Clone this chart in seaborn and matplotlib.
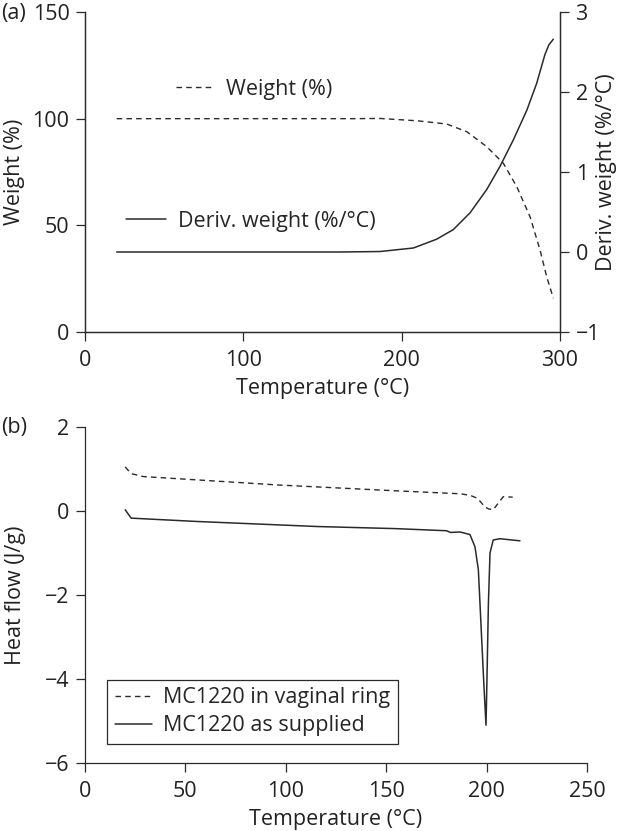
import matplotlib
matplotlib.use("Agg")
import matplotlib.pyplot as plt
import seaborn as sns
import pandas as pd
from matplotlib.lines import Line2D

# ---------------- data ----------------
# (a) TGA
weight_temp = [20, 100, 170, 186.3, 210, 228.4, 241.1, 253.7, 264.2, 272.7, 281.1, 287.4, 291.6, 295.8]
weight_pct = [100, 100, 100, 100.1, 99.0, 97.5, 93.9, 86.9, 79.1, 68.1, 54.0, 38.4, 25.9, 15.8]

deriv_temp = [20, 100, 161, 186.3, 207.4, 222.1, 232.6, 243.2, 253.7, 262.1, 270.5, 279, 285.3, 290.5, 293, 295.8]
deriv_wt = [0, 0, 0, 0.006, 0.05, 0.16, 0.28, 0.49, 0.78, 1.07, 1.40, 1.77, 2.11, 2.47, 2.59, 2.66]

# (b) DSC
ring_temp = [20, 23, 29, 56, 96, 155, 187, 192, 195, 197, 199, 201, 203.3, 206, 208.3, 213]
ring_flow = [1.05, 0.89, 0.82, 0.74, 0.62, 0.48, 0.41, 0.37, 0.31, 0.22, 0.10, 0.05, 0.03, 0.2, 0.34, 0.33]

supp_temp = [20, 23, 56, 116, 155, 180, 182, 186.8, 191.7, 194.2, 195.9, 197.5, 198.7, 199.7,
             200.1, 200.9, 201.7, 203.3, 206.6, 216.6]
supp_flow = [0.03, -0.17, -0.25, -0.37, -0.42, -0.47, -0.51, -0.50, -0.56, -0.85, -1.4, -3.0, -4.19, -5.1,
             -4.2, -2.2, -1.0, -0.69, -0.66, -0.71]

a_xticks = [0, 100, 200, 300]
a_yticks = [0, 50, 100, 150]
a_y2ticks = [-1, 0, 1, 2, 3]
b_xticks = [0, 50, 100, 150, 200, 250]
b_yticks = [2, 0, -2, -4, -6]

# ---------------- style ----------------
sns.set_style("ticks")
plt.rcParams["font.family"] = ["Open Sans", "DejaVu Sans"]
FS = 15.5
INK = "#2a2a2a"
plt.rcParams.update({
    "axes.edgecolor": INK, "axes.linewidth": 0.9,
    "xtick.color": INK, "ytick.color": INK,
    "xtick.labelcolor": "#222222", "ytick.labelcolor": "#222222",
    "xtick.major.size": 6.2, "ytick.major.size": 6.2,
    "xtick.major.width": 0.9, "ytick.major.width": 0.9,
    "xtick.major.pad": 6.5, "ytick.major.pad": 5,
    "font.size": FS, "axes.labelcolor": "#222222",
})

W, H = 620, 831
fig = plt.figure(figsize=(W / 100, H / 100), dpi=100)

def rect(l, r, t, b):
    return [l / W, 1 - b / H, (r - l) / W, (b - t) / H]

dash = (0, (4, 3))

# ---------------- panel (a) ----------------
ax = fig.add_axes(rect(85, 560, 12, 332))
ax2 = ax.twinx()
df_w = pd.DataFrame({"T": weight_temp, "W": weight_pct})
df_d = pd.DataFrame({"T": deriv_temp, "D": deriv_wt})
sns.lineplot(data=df_w, x="T", y="W", ax=ax, color=INK, lw=1.0, linestyle=dash, sort=False)
sns.lineplot(data=df_d, x="T", y="D", ax=ax2, color=INK, lw=1.1, sort=False)

ax.set_xlim(0, 300)
ax.set_ylim(0, 150)
ax2.set_ylim(-1, 3)
ax.set_xticks(a_xticks)
ax.set_yticks(a_yticks)
ax2.set_yticks(a_y2ticks)
ax2.set_yticklabels(["\u22121", "0", "1", "2", "3"])
for a in (ax, ax2):
    a.spines["top"].set_visible(False)
    a.tick_params(labelsize=FS)
ax.set_xlabel("Temperature (\u00b0C)", fontsize=FS, labelpad=5)
ax.set_ylabel("Weight (%)", fontsize=FS)
ax.yaxis.set_label_coords((25 - 85) / 475, 0.5)
ax2.set_ylabel("Deriv. weight (%/\u00b0C)", fontsize=FS)
ax2.yaxis.set_label_coords((596 - 85) / 475, 0.5)

h_w = Line2D([], [], color=INK, lw=1.0, linestyle=dash)
h_d = Line2D([], [], color=INK, lw=1.1)
leg1 = ax2.legend([h_w], ["Weight (%)"], loc="center left",
                  bbox_to_anchor=((176 - 85) / 475, (332 - 89) / 320),
                  frameon=False, borderpad=0, borderaxespad=0,
                  handlelength=1.75, handletextpad=0.55, fontsize=FS)
ax2.add_artist(leg1)
ax2.legend([h_d], ["Deriv. weight (%/\u00b0C)"], loc="center left",
           bbox_to_anchor=((126 - 85) / 475, (332 - 221) / 320),
           frameon=False, borderpad=0, borderaxespad=0,
           handlelength=1.85, handletextpad=0.55, fontsize=FS)

fig.text(1 / W, 1 - 13 / H, "(a)", fontsize=FS, va="center", ha="left", color="#222222")

# ---------------- panel (b) ----------------
bx = fig.add_axes(rect(85, 587, 427, 763))
df_r = pd.DataFrame({"T": ring_temp, "Q": ring_flow})
df_s = pd.DataFrame({"T": supp_temp, "Q": supp_flow})
sns.lineplot(data=df_r, x="T", y="Q", ax=bx, color=INK, lw=1.0, linestyle=dash, sort=False)
sns.lineplot(data=df_s, x="T", y="Q", ax=bx, color=INK, lw=1.1, sort=False)
bx.set_xlim(0, 250)
bx.set_ylim(-6, 2)
bx.set_xticks(b_xticks)
bx.set_yticks(b_yticks)
bx.set_yticklabels(["2", "0", "\u22122", "\u22124", "\u22126"])
bx.tick_params(labelsize=FS)
sns.despine(ax=bx)
bx.set_xlabel("Temperature (\u00b0C)", fontsize=FS, labelpad=5)
bx.set_ylabel("Heat flow (J/g)", fontsize=FS)
bx.yaxis.set_label_coords((26 - 85) / 502, 0.5)

leg = bx.legend([h_w, h_d], ["MC1220 in vaginal ring", "MC1220 as supplied"],
                loc="lower left", bbox_to_anchor=((107 - 85) / 502, (763 - 744) / 336),
                frameon=True, fancybox=False, edgecolor=INK, framealpha=1,
                borderaxespad=0, handlelength=1.75, handletextpad=0.5,
                borderpad=0.35, labelspacing=0.33, fontsize=FS)
leg.get_frame().set_linewidth(0.9)

fig.text(1 / W, 1 - 428 / H, "(b)", fontsize=FS, va="center", ha="left", color="#222222")

fig.savefig("out.png", dpi=100)
